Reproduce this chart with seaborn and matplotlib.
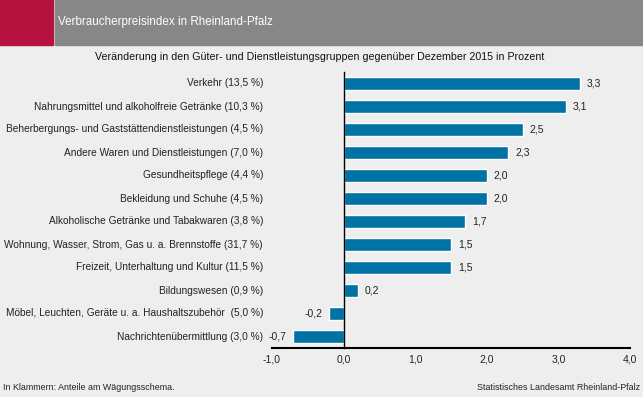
import matplotlib
matplotlib.use("Agg")
import matplotlib.pyplot as plt
import matplotlib.transforms as mtransforms
from matplotlib.patches import Rectangle
import seaborn as sns
import pandas as pd

categories = [
    "Verkehr (13,5 %)",
    "Nahrungsmittel und alkoholfreie Getränke (10,3 %)",
    "Beherbergungs- und Gaststättendienstleistungen (4,5 %)",
    "Andere Waren und Dienstleistungen (7,0 %)",
    "Gesundheitspflege (4,4 %)",
    "Bekleidung und Schuhe (4,5 %)",
    "Alkoholische Getränke und Tabakwaren (3,8 %)",
    "Wohnung, Wasser, Strom, Gas u. a. Brennstoffe (31,7 %)",
    "Freizeit, Unterhaltung und Kultur (11,5 %)",
    "Bildungswesen (0,9 %)",
    "Möbel, Leuchten, Geräte u. a. Haushaltszubehör  (5,0 %)",
    "Nachrichtenübermittlung (3,0 %)",
]
values = [3.3, 3.1, 2.5, 2.3, 2.0, 2.0, 1.7, 1.5, 1.5, 0.2, -0.2, -0.7]
xticks = [-1.0, 0.0, 1.0, 2.0, 3.0, 4.0]
xtick_labels = ["-1,0", "0,0", "1,0", "2,0", "3,0", "4,0"]

title = "Verbraucherpreisindex in Rheinland-Pfalz"
subtitle = "Veränderung in den Güter- und Dienstleistungsgruppen gegenüber Dezember 2015 in Prozent"
foot_left = "In Klammern: Anteile am Wägungsschema."
foot_right = "Statistisches Landesamt Rheinland-Pfalz"

BG = "#EDEEED"
BAR = "#0072A4"

sns.set_theme(style="white")
plt.rcParams["font.family"] = ["Liberation Sans", "DejaVu Sans"]
plt.rcParams["font.size"] = 7.3

df = pd.DataFrame({"cat": categories, "val": values})

fig = plt.figure(figsize=(6.43, 3.97), dpi=100, facecolor=BG)
ax = fig.add_axes([272 / 643, 1 - 348 / 397, 358 / 643, 276 / 397])
ax.set_facecolor(BG)

sns.barplot(data=df, x="val", y="cat", orient="h", color=BAR, width=0.57,
            saturation=1, ax=ax)

ax.set_xlim(-1.0, 4.0)
ax.set_ylim(11.5, -0.5)
ax.set_xlabel("")
ax.set_ylabel("")

# x axis
ax.set_xticks(xticks)
ax.set_xticklabels(xtick_labels, fontsize=7.5, color="#222222")
ax.tick_params(axis="x", direction="in", length=4, width=1.5, color="black", pad=5)

# y axis: spine at zero with ticks between categories
for s in ["top", "right"]:
    ax.spines[s].set_visible(False)
ax.spines["left"].set_position(("data", 0))
ax.spines["left"].set_color("black")
ax.spines["left"].set_linewidth(1.0)
ax.spines["bottom"].set_color("black")
ax.spines["bottom"].set_linewidth(1.5)
ax.set_yticks([i - 0.5 for i in range(len(categories) + 1)])
ax.set_yticklabels([])
ax.tick_params(axis="y", direction="inout", length=6, width=1.5, color="black")

# category labels
trans = mtransforms.blended_transform_factory(ax.transAxes, ax.transData)
for i, c in enumerate(categories):
    ax.text(-9 / 358, i, c, transform=trans, ha="right", va="center",
            fontsize=7.3, color="#222222")

# value labels
for cont in ax.containers:
    ax.bar_label(cont, labels=[f"{v:.1f}".replace(".", ",") for v in values],
                 padding=5, fontsize=7.5, color="#222222")

# header
fig.patches.append(Rectangle((0, 1 - 45 / 397), 53 / 643, 45 / 397,
                             transform=fig.transFigure, color="#B5123F", zorder=0))
fig.patches.append(Rectangle((55 / 643, 1 - 45 / 397), 1 - 55 / 643, 45 / 397,
                             transform=fig.transFigure, color="#878787", zorder=0))
fig.text(58 / 643, 1 - 22.5 / 397, title, color="white", fontsize=8.4, va="center", ha="left")
fig.text(320 / 643, 1 - 57 / 397, subtitle, color="#111111", fontsize=7.7,
         va="center", ha="center")
fig.text(3 / 643, 1 - 388 / 397, foot_left, color="#222222", fontsize=6.4,
         va="center", ha="left")
fig.text(640 / 643, 1 - 388 / 397, foot_right, color="#222222", fontsize=6.4,
         va="center", ha="right")

fig.savefig("out.png", dpi=100, facecolor=BG)
